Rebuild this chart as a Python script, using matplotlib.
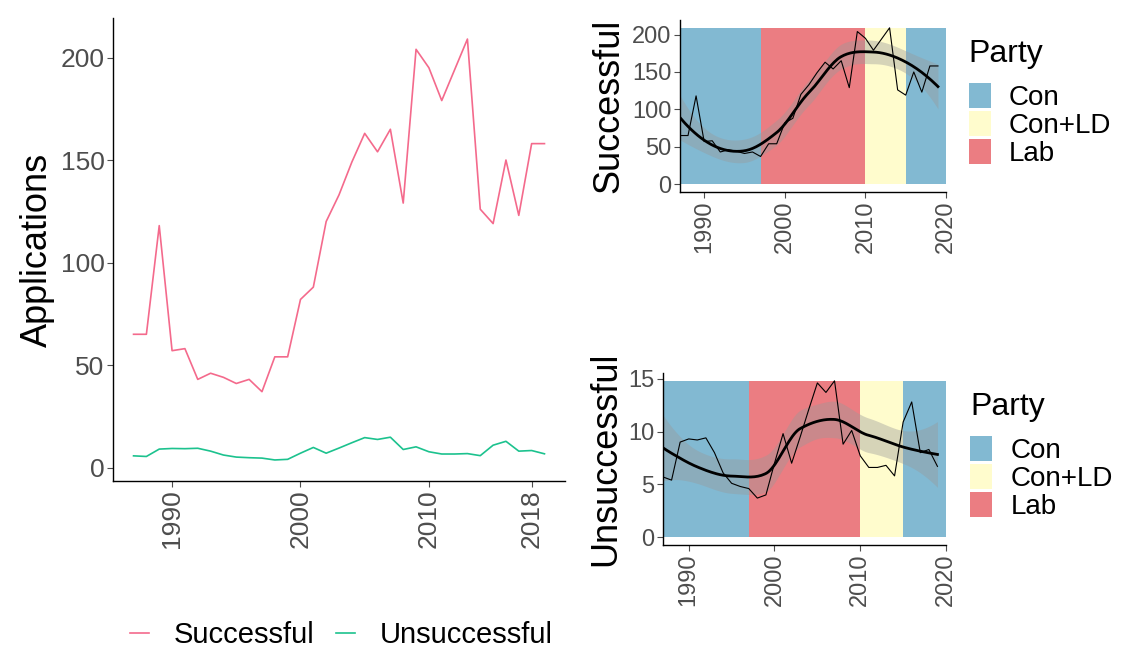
import numpy as np
import matplotlib.pyplot as plt
from matplotlib.patches import Patch
from matplotlib.lines import Line2D

plt.rcParams.update({
    'font.family': ['Liberation Sans', 'DejaVu Sans'],
    'axes.linewidth': 1.0,
})

# ---------------------------------------------------------------------
# data
# ---------------------------------------------------------------------
years = np.arange(1987, 2020)
successful = [65, 65, 118, 57, 58, 43, 46, 44, 41, 43, 37, 54, 54, 82, 88, 120,
              133, 149, 163, 154, 165, 129, 204, 195, 179, 194, 209, 126, 119,
              150, 123, 158, 158]
unsuccessful = [5.7, 5.4, 9.0, 9.3, 9.2, 9.4, 8.0, 6.1, 5.1, 4.8, 4.6, 3.7, 4.0,
                7.0, 9.8, 7.0, 9.5, 12.1, 14.6, 13.7, 14.8, 8.8, 10.1, 7.7, 6.6,
                6.6, 6.8, 5.8, 10.9, 12.8, 8.0, 8.3, 6.7]

party_names = ['Con', 'Lab', 'Con+LD', 'Con']
party_start = [1987, 1997, 2010, 2015]
party_end = [1997, 2010, 2015, 2020]
party_colors = {'Con': '#82B9D2', 'Con+LD': '#FFFCCD', 'Lab': '#EB7D82'}

col_succ = '#F46A8C'
col_unsucc = '#1CC28E'
tick_col = '#4D4D4D'


# ---------------------------------------------------------------------
# loess (degree 2, span 0.75) evaluated on kd-tree vertices and
# joined with cubic Hermite pieces, the way R's loess() does it
# ---------------------------------------------------------------------
def kd_vertices(x, fc):
    xs = np.sort(x)
    rng = xs[-1] - xs[0]
    verts = {xs[0] - 0.005 * rng, xs[-1] + 0.005 * rng}

    def split(lo, hi):
        if hi - lo + 1 <= fc:
            return
        m = (lo + hi) // 2
        verts.add(xs[m])
        split(lo, m)
        split(m + 1, hi)

    split(0, len(xs) - 1)
    return np.array(sorted(verts))


def local_rows(x, points, q):
    n = len(x)
    val = np.zeros((len(points), n))
    slope = np.zeros((len(points), n))
    for k, x0 in enumerate(points):
        d = np.abs(x - x0)
        dmax = np.sort(d)[q - 1]
        w = np.clip(1 - (d / dmax) ** 3, 0, None) ** 3
        X = np.vstack([np.ones(n), x - x0, (x - x0) ** 2]).T
        W = np.diag(w)
        A = np.linalg.solve(X.T @ W @ X, X.T @ W)
        val[k] = A[0]
        slope[k] = A[1]
    return val, slope


def hermite_rows(x, xg, q, verts):
    V, S = local_rows(x, verts, q)
    out = np.zeros((len(xg), len(x)))
    for k, t in enumerate(xg):
        i = np.clip(np.searchsorted(verts, t) - 1, 0, len(verts) - 2)
        x0, x1 = verts[i], verts[i + 1]
        h = x1 - x0
        u = (t - x0) / h
        h00 = 2 * u**3 - 3 * u**2 + 1
        h10 = u**3 - 2 * u**2 + u
        h01 = -2 * u**3 + 3 * u**2
        h11 = u**3 - u**2
        out[k] = h00 * V[i] + h10 * h * S[i] + h01 * V[i + 1] + h11 * h * S[i + 1]
    return out


def loess(x, y, xg, span=0.75):
    x = np.asarray(x, float); y = np.asarray(y, float)
    n = len(x)
    q = int(np.floor(span * n))
    verts = kd_vertices(x, int(np.floor(n * span * 0.2)))
    Lfit = hermite_rows(x, x, q, verts)
    res = y - Lfit @ y
    M = np.eye(n) - Lfit
    delta1 = np.trace(M.T @ M)
    sigma = np.sqrt(np.sum(res ** 2) / delta1)
    Lg = hermite_rows(x, xg, q, verts)
    fit = Lg @ y
    se = sigma * np.sqrt(np.sum(Lg ** 2, axis=1))
    return fit, 2.06 * se


def style_axis(ax, fs):
    for s in ['top', 'right']:
        ax.spines[s].set_visible(False)
    ax.tick_params(colors=tick_col, labelcolor=tick_col, labelsize=fs,
                   length=4, width=0.8, pad=2)


fig = plt.figure(figsize=(11.38, 6.53), dpi=100)

# ---------------------------------------------------------------------
# left: both series
# ---------------------------------------------------------------------
ax = fig.add_axes([0.0993, 0.2634, 0.3972, 0.709])
ax.plot(years, successful, color=col_succ, lw=1.2, label='Successful')
ax.plot(years, unsuccessful, color=col_unsucc, lw=1.2, label='Unsuccessful')
allv = np.concatenate([successful, unsuccessful])
pad_y = 0.05 * (allv.max() - allv.min())
ax.set_ylim(allv.min() - pad_y, allv.max() + pad_y)
ax.set_xlim(1987 - 1.6, 2019 + 1.6)
ax.set_xticks([1990, 2000, 2010, 2018])
ax.set_yticks([0, 50, 100, 150, 200])
ax.tick_params(axis='x', labelrotation=90)
style_axis(ax, 19)
ax.set_ylabel('Applications', fontsize=26, labelpad=4)

handles = [Line2D([], [], color=col_succ, lw=1.2), Line2D([], [], color=col_unsucc, lw=1.2)]
fig.legend(handles, ['Successful', 'Unsuccessful'], loc='center',
           bbox_to_anchor=(0.30, 0.028), ncol=2, frameon=False, fontsize=21,
           handlelength=0.65, columnspacing=0.75, handletextpad=0.85)

# ---------------------------------------------------------------------
# right: per series with party bands and smooth
# ---------------------------------------------------------------------
xg = np.linspace(1987, 2019, 160)


def party_panel(rect, y, ylabel, yticks, tick_fs=17):
    a = fig.add_axes(rect)
    y = np.asarray(y, float)
    top = y.max()
    for name, s, e in zip(party_names, party_start, party_end):
        a.fill_between([s, e], 0, top, color=party_colors[name], lw=0)
    a.set_ylim(-0.05 * top, top * 1.05)
    a.plot(years, y, color='black', lw=0.8)
    fit, band = loess(years, y, xg)
    a.fill_between(xg, fit - band, fit + band, color='#999999', alpha=0.4, lw=0)
    a.plot(xg, fit, color='black', lw=2.0)
    a.set_xlim(1987, 2020)
    a.set_xticks([1990, 2000, 2010, 2020])
    a.set_yticks(yticks)
    a.tick_params(axis='x', labelrotation=90)
    style_axis(a, tick_fs)
    a.set_ylabel(ylabel, fontsize=26, labelpad=4)
    leg_h = [Patch(facecolor=party_colors[k], edgecolor='none') for k in ['Con', 'Con+LD', 'Lab']]
    lg = a.legend(leg_h, ['Con', 'Con+LD', 'Lab'], title='Party', loc='upper left',
                  bbox_to_anchor=(1.085, 0.89), frameon=False, fontsize=20,
                  title_fontsize=23, handlelength=0.8, handleheight=1.0,
                  labelspacing=0.0, handletextpad=0.65, borderaxespad=0,
                  borderpad=0)
    lg._legend_box.align = 'left'
    lg._legend_box.sep = 10
    return a


party_panel([0.5975, 0.706, 0.2338, 0.2634], successful, 'Successful', [0, 50, 100, 150, 200])
party_panel([0.5826, 0.1654, 0.2487, 0.2634], unsuccessful, 'Unsuccessful', [0, 5, 10, 15])

plt.savefig('out.png', dpi=100)
